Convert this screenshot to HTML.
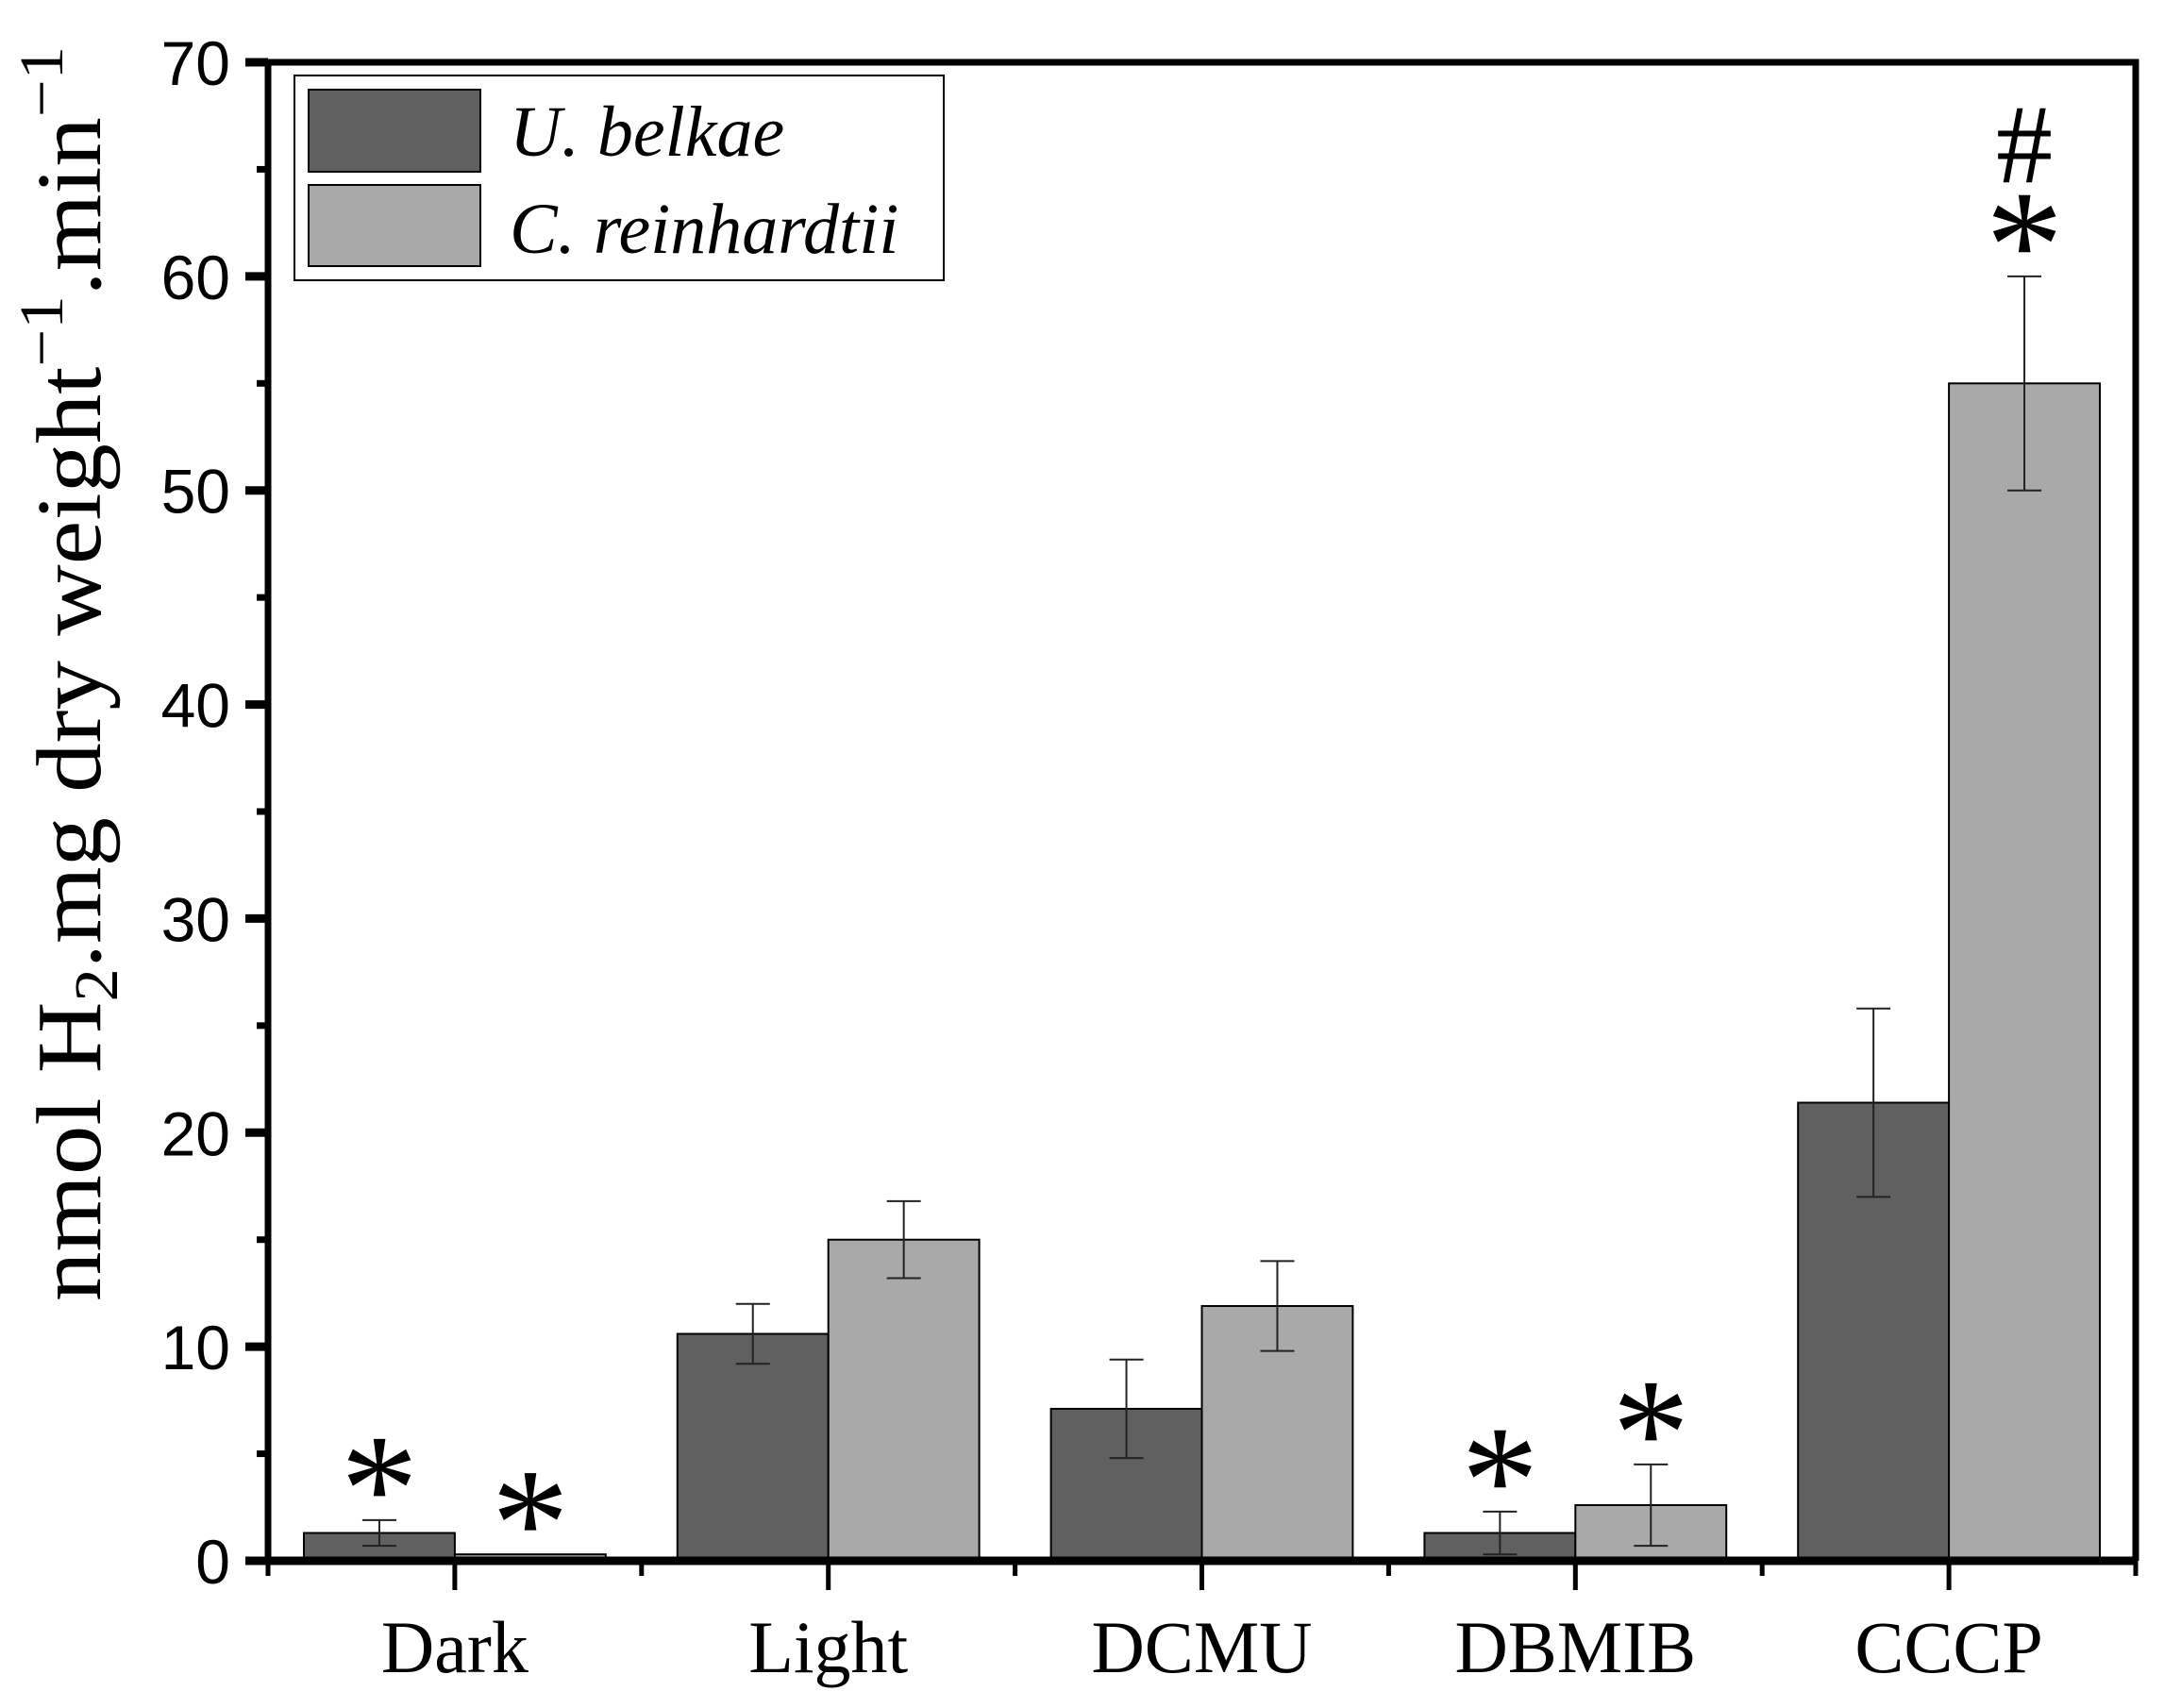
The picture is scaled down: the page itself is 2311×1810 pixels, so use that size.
<!DOCTYPE html>
<html><head><meta charset="utf-8"><style>
html,body{margin:0;padding:0;background:#fff;}
svg{display:block;}
</style></head><body>
<svg id="chart" width="2311" height="1810" viewBox="0 0 2311 1810" xmlns="http://www.w3.org/2000/svg">
<g id="bars"></g>
<g id="errs"></g>
<g id="marks"></g>
<g id="axes"></g>
<g>
  <rect x="312" y="80" width="688" height="217" fill="#fff" stroke="#000" stroke-width="2"/>
  <rect x="327" y="95" width="182" height="87" fill="#606060" stroke="#000" stroke-width="2"/>
  <text x="540" y="165" font-family="Liberation Serif, serif" font-style="italic" font-size="76">U. belkae</text>
  <rect x="327" y="196" width="182" height="86" fill="#a9a9a9" stroke="#000" stroke-width="2"/>
  <text x="540" y="268" font-family="Liberation Serif, serif" font-style="italic" font-size="76">C. reinhardtii</text>
</g>
<text transform="translate(106,714) rotate(-90)" text-anchor="middle" font-family="Liberation Serif, serif" font-size="98" textLength="1330" lengthAdjust="spacingAndGlyphs">nmol H<tspan font-size="66" dy="18">2</tspan><tspan dy="-18">.mg dry weight</tspan><tspan font-size="66" dy="-40">−1</tspan><tspan dy="40">.min</tspan><tspan font-size="66" dy="-40">−1</tspan></text>
</svg>
<script>
const categories = ["Dark","Light","DCMU","DBMIB","CCCP"];
const seriesNames = ["U. belkae","C. reinhardtii"];
const uBelkae = [1.3, 10.6, 7.1, 1.3, 21.4];
const uBelkaeErr = [0.6, 1.4, 2.3, 1.0, 4.4];
const cReinhardtii = [0.3, 15.0, 11.9, 2.6, 55.0];
const cReinhardtiiErr = [0.0, 1.8, 2.1, 1.9, 5.0];
const yTicks = [0,10,20,30,40,50,60,70];
const uMarks = ["*","","","*",""];
const cMarks = ["*","","","*","#*"];

const NS="http://www.w3.org/2000/svg";
const L=284,R=2263,T=66,B=1654,YMAX=70;
const yS=v=>B-(v/YMAX)*(B-T);
const gw=(R-L)/categories.length;
const xC=i=>L+gw*(i+0.5);
const bw=gw*0.404;
function mk(parent,tag,attrs){const e=document.createElementNS(NS,tag);for(const k in attrs)e.setAttribute(k,attrs[k]);document.getElementById(parent).appendChild(e);return e;}
const series=[[uBelkae,uBelkaeErr,"#606060",-1,uMarks],[cReinhardtii,cReinhardtiiErr,"#a9a9a9",0,cMarks]];
series.forEach((s,si)=>{
  categories.forEach((c,i)=>{
    const v=s[0][i],x=xC(i)+s[3]*bw;
    const r=mk("bars","rect",{x:x,y:yS(v),width:bw,height:B-yS(v),fill:s[2],stroke:"#000","stroke-width":2});
    
    
    const cx=x+bw/2,e=s[1][i];
    if(e>0){
      const g=mk("errs","path",{d:`M${cx},${yS(v-e)}V${yS(v+e)}M${cx-18},${yS(v+e)}H${cx+18}M${cx-18},${yS(v-e)}H${cx+18}`,stroke:"#222","stroke-width":2,fill:"none"});
      
      
    }
    const m=s[4][i];
    if(m){
      const top=yS(v+e);
      if(m.indexOf("*")>=0){
        const t=mk("marks","text",{x:cx,y:top+22,"text-anchor":"middle","font-family":"Liberation Serif, serif","font-size":165});
        t.textContent="*";
        
        
      }
      if(m.indexOf("#")>=0){
        const t=mk("marks","text",{x:cx,y:top-100,"text-anchor":"middle","font-family":"Liberation Serif, serif","font-size":120});
        t.textContent="#";
        
        
      }
    }
  });
});
// axes
mk("axes","path",{d:`M${L},${T}H${R}V${B}M${L},${T}V${B}`,stroke:"#000","stroke-width":7,fill:"none"});
mk("axes","line",{x1:L-12,y1:B,x2:R,y2:B,stroke:"#000","stroke-width":9});
yTicks.forEach((v,i)=>{
  mk("axes","line",{x1:L-24,y1:yS(v),x2:L,y2:yS(v),stroke:"#000","stroke-width":9});
  if(i<yTicks.length-1) mk("axes","line",{x1:L-12,y1:yS(v+5),x2:L,y2:yS(v+5),stroke:"#000","stroke-width":7});
  const t=mk("axes","text",{x:L-40,y:yS(v)+24,"text-anchor":"end","font-family":"Liberation Sans, sans-serif","font-size":66});
  t.textContent=v;
  
  
});
categories.forEach((c,i)=>{
  mk("axes","line",{x1:xC(i),y1:B,x2:xC(i),y2:B+31,stroke:"#000","stroke-width":5});
  mk("axes","line",{x1:L+gw*i,y1:B,x2:L+gw*i,y2:B+16,stroke:"#000","stroke-width":5});
  const t=mk("axes","text",{x:xC(i),y:B+118,"text-anchor":"middle","font-family":"Liberation Serif, serif","font-size":78});
  t.textContent=c;
  
  
});
mk("axes","line",{x1:R,y1:B,x2:R,y2:B+16,stroke:"#000","stroke-width":5});
</script>
</body></html>
